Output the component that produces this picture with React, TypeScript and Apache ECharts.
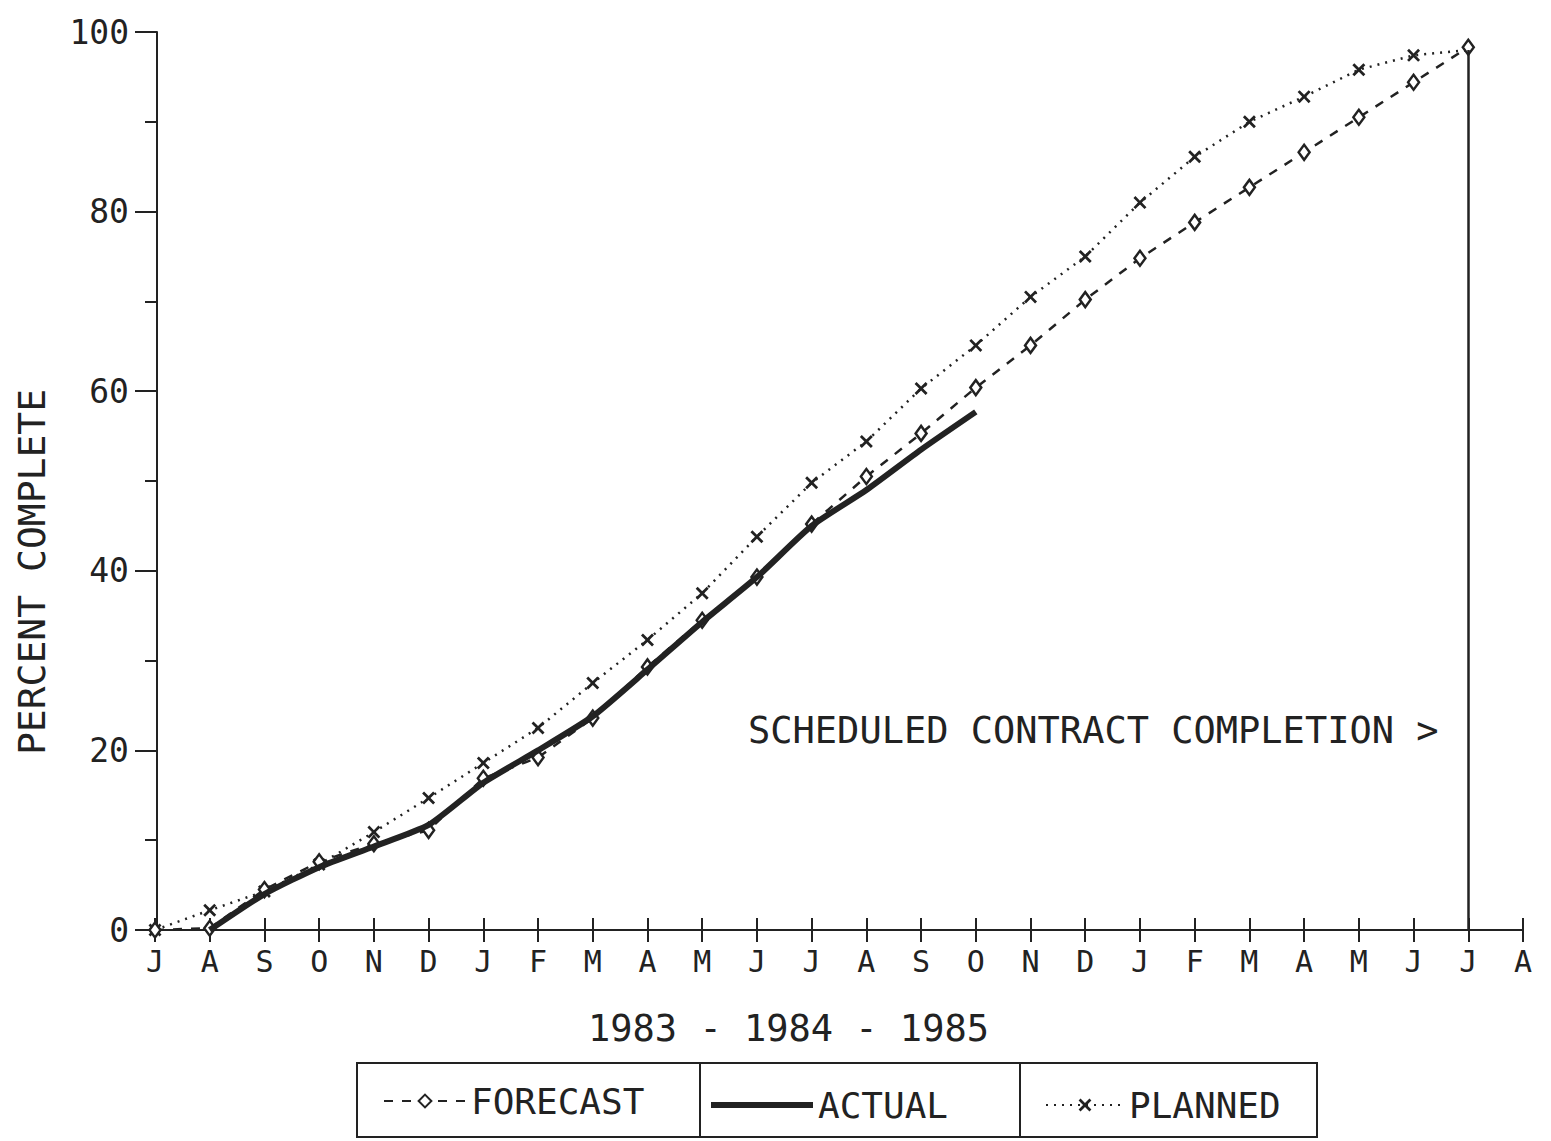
import React, { useEffect, useRef } from "react";
import * as echarts from "echarts";

const months = ["J","A","S","O","N","D","J","F","M","A","M","J","J","A","S","O","N","D","J","F","M","A","M","J","J","A"];
const yTicks = [0, 20, 40, 60, 80, 100];
const planned = [0, 2.2, 4.3, 7.3, 10.9, 14.7, 18.6, 22.5, 27.5, 32.3, 37.5, 43.8, 49.8, 54.4, 60.3, 65.1, 70.5, 75.0, 81.0, 86.1, 90.0, 92.8, 95.8, 97.4, 98.0, null];
const forecast = [0, 0.2, 4.5, 7.6, 9.6, 11.1, 16.9, 19.2, 23.6, 29.3, 34.5, 39.3, 45.2, 50.5, 55.3, 60.4, 65.1, 70.2, 74.8, 78.8, 82.7, 86.6, 90.5, 94.4, 98.3, null];
const actual = [null, 0, 4.0, 7.0, 9.3, 11.7, 16.4, 20.0, 23.8, 29.0, 34.3, 39.3, 45.0, 49.0, 53.5, 57.7, null, null, null, null, null, null, null, null, null, null];
const completionIndex = 24;
const completionValue = 98;
const yearsLabel = "1983 - 1984 - 1985";
const noteLabel = "SCHEDULED CONTRACT COMPLETION >";
const yTitle = "PERCENT COMPLETE";

const FONT = "DejaVu Sans Mono";
const INK = "#222";
const XPATH = "path://M0,1.5 L1.5,0 L5,3.5 L8.5,0 L10,1.5 L6.5,5 L10,8.5 L8.5,10 L5,6.5 L1.5,10 L0,8.5 L3.5,5 Z";

export default function App() {
  const ref = useRef<HTMLDivElement>(null);
  useEffect(() => {
    const chart = echarts.init(ref.current!, null, { renderer: "svg" });
    const plannedData = planned.map((v, i) =>
      i === completionIndex ? { value: v, symbol: "none" } : v
    );
    const legendText = { fontFamily: FONT, fontSize: 36, color: INK };
    const option: any = {
      animation: false,
      backgroundColor: "#fff",
      textStyle: { fontFamily: FONT, color: INK },
      grid: { left: 155, right: 28, top: 32, bottom: 211 },
      xAxis: [
        {
          type: "category",
          data: months,
          boundaryGap: false,
          axisLine: { show: true, lineStyle: { color: INK, width: 2 } },
          axisTick: { show: true, inside: false, length: 12, interval: 0, lineStyle: { color: INK, width: 2 } },
          axisLabel: { interval: 0, margin: 16, fontFamily: FONT, fontSize: 30, color: INK },
          splitLine: { show: false },
        },
        {
          type: "category",
          data: months,
          boundaryGap: false,
          position: "bottom",
          axisLine: { show: false },
          axisTick: { show: true, inside: true, length: 12, interval: 0, lineStyle: { color: INK, width: 2 } },
          axisLabel: { show: false },
          splitLine: { show: false },
        },
      ],
      yAxis: {
        type: "value",
        min: 0,
        max: 100,
        interval: 20,
        offset: -2,
        axisLine: { show: true, lineStyle: { color: INK, width: 2 } },
        axisTick: { show: true, length: 22, lineStyle: { color: INK, width: 2 } },
        minorTick: { show: true, splitNumber: 2, length: 12, lineStyle: { color: INK, width: 2 } },
        splitLine: { show: false },
        axisLabel: {
          margin: 28,
          fontFamily: FONT,
          fontSize: 33,
          color: INK,
          formatter: (v: number) => (yTicks.includes(v) ? String(v) : ""),
        },
      },
      series: [
        {
          name: "FORECAST",
          type: "line",
          data: forecast,
          symbol: "diamond",
          symbolSize: [11, 15],
          showAllSymbol: true,
          lineStyle: { color: INK, width: 2.5, type: [9, 9] },
          itemStyle: { color: "#fff", borderColor: INK, borderWidth: 2.5 },
          z: 3,
        },
        {
          name: "ACTUAL",
          type: "line",
          data: actual,
          showSymbol: false,
          symbol: "none",
          smooth: 0.2,
          lineStyle: { color: INK, width: 6 },
          itemStyle: { color: INK },
          z: 4,
        },
        {
          name: "PLANNED",
          type: "line",
          data: plannedData,
          symbol: XPATH,
          symbolSize: 13,
          showAllSymbol: true,
          lineStyle: { color: INK, width: 2.5, type: [2, 6] },
          itemStyle: { color: INK },
          z: 2,
          markLine: {
            silent: true,
            symbol: ["none", "none"],
            label: { show: false },
            lineStyle: { color: INK, width: 2.5, type: "solid" },
            data: [[{ coord: [completionIndex, completionValue] }, { coord: [completionIndex, 0] }]],
          },
        },
      ],
      legend: [
        {
          data: ["FORECAST"],
          left: 378,
          top: 1078,
          itemWidth: 82,
          itemHeight: 16,
          itemGap: 10,
          textStyle: legendText,
          selectedMode: false,
        },
        {
          data: [{ name: "ACTUAL", icon: "rect" }],
          left: 706,
          top: 1082,
          itemWidth: 102,
          itemHeight: 6,
          itemGap: 6,
          itemStyle: { color: INK },
          textStyle: legendText,
          selectedMode: false,
        },
        {
          data: ["PLANNED"],
          left: 1040,
          top: 1082,
          itemWidth: 78,
          itemHeight: 16,
          itemGap: 16,
          textStyle: legendText,
          selectedMode: false,
        },
      ],
      graphic: [
        { type: "rect", shape: { x: 357, y: 1063, width: 343, height: 74 }, style: { fill: "none", stroke: INK, lineWidth: 2 }, silent: true },
        { type: "rect", shape: { x: 700, y: 1063, width: 320, height: 74 }, style: { fill: "none", stroke: INK, lineWidth: 2 }, silent: true },
        { type: "rect", shape: { x: 1020, y: 1063, width: 297, height: 74 }, style: { fill: "none", stroke: INK, lineWidth: 2 }, silent: true },
        {
          type: "text",
          x: 32,
          y: 572,
          rotation: Math.PI / 2,
          style: { text: yTitle, fontFamily: FONT, fontSize: 38, fill: INK, align: "center", verticalAlign: "middle" },
          silent: true,
        },
        {
          type: "text",
          left: 588,
          top: 1010,
          style: { text: yearsLabel, fontFamily: FONT, fontSize: 37, fill: INK },
          silent: true,
        },
        {
          type: "text",
          left: 748,
          top: 712,
          style: { text: noteLabel, fontFamily: FONT, fontSize: 37, fill: INK },
          silent: true,
        },
      ],
    };
    chart.setOption(option);
    return () => chart.dispose();
  }, []);
  return (
    <div
      ref={ref}
      style={{ position: "fixed", left: 0, top: 0, width: 1551, height: 1141, background: "#fff" }}
    />
  );
}
